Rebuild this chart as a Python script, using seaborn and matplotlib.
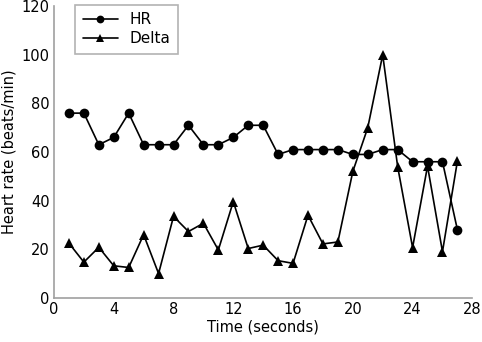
import numpy as np
import pandas as pd
import matplotlib
matplotlib.use("Agg")
import matplotlib.pyplot as plt
import seaborn as sns

# data
time_s = list(range(1, 28))
hr = [76, 76, 63, 66, 76, 63, 63, 63, 71, 63, 63, 66, 71, 71,
      59, 61, 61, 61, 61, 59, 59, 61, 61, 56, 56, 56, 28]
delta = [22.5, 14.7, 20.8, 13.2, 12.5, 26, 10, 33.5, 27.3, 30.7, 19.7, 39.6, 20.3, 21.7,
         15.3, 14.2, 34, 22.2, 23, 52, 70, 100, 54, 20.7, 54.2, 19, 56.3]

df = pd.DataFrame({"time": time_s * 2,
                   "value": hr + delta,
                   "series": ["HR"] * len(hr) + ["Delta"] * len(delta)})

sns.set_style("white", {"text.color": "black", "xtick.color": "black",
                        "ytick.color": "black", "axes.labelcolor": "black"})
plt.rcParams['font.family'] = ['DejaVu Sans']

fig, ax = plt.subplots(figsize=(4.82, 3.42), dpi=100)
fig.subplots_adjust(left=0.112, right=0.980, bottom=0.129, top=0.982)

sns.lineplot(data=df, x="time", y="value", hue="series", style="series",
             markers={"HR": "o", "Delta": "^"}, dashes=False,
             palette={"HR": "black", "Delta": "black"},
             markersize=7, linewidth=1.2, markeredgewidth=0, ax=ax)

ax.set_xlim(0, 28)
ax.set_ylim(0, 120)
ax.set_xticks(range(0, 29, 4))
ax.set_yticks(range(0, 121, 20))
ax.set_xlabel("Time (seconds)", fontsize=10.5, labelpad=2)
ax.set_ylabel("Heart rate (beats/min)", fontsize=10.5, labelpad=4)

for side in ["top", "right"]:
    ax.spines[side].set_visible(False)
for side in ["left", "bottom"]:
    ax.spines[side].set_color("#a0a0a0")
    ax.spines[side].set_linewidth(1.2)
ax.tick_params(direction="in", length=10, width=1.2, color="#a0a0a0",
               labelsize=10.5, pad=3)

leg = ax.legend(loc="upper left", bbox_to_anchor=(0.05, 1.005), fontsize=11,
                frameon=True, fancybox=False, handlelength=2.3,
                borderpad=0.5, labelspacing=0.25, markerscale=0.8,
                handletextpad=0.8, borderaxespad=0)
leg.get_frame().set_edgecolor("#a0a0a0")
leg.get_frame().set_linewidth(1.2)

fig.savefig("out.png", dpi=100)
